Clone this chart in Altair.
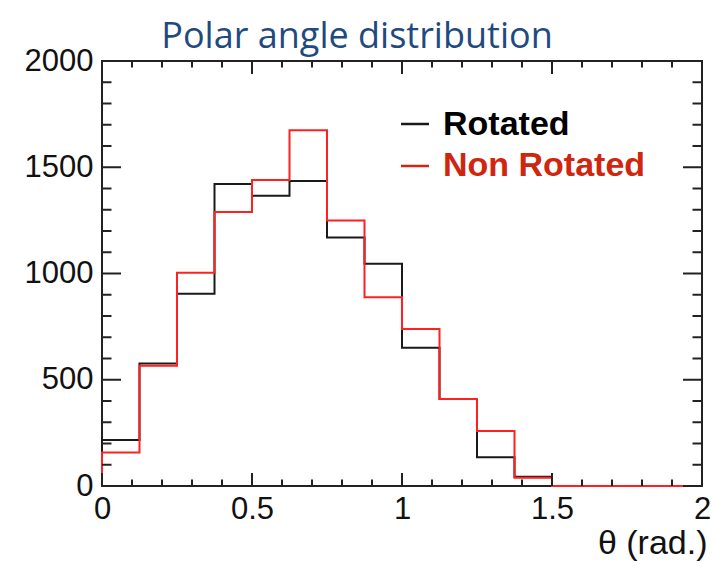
import altair as alt
import pandas as pd

# ---- data ----
bin_edges = [0.0, 0.125, 0.25, 0.375, 0.5, 0.625, 0.75, 0.875,
             1.0, 1.125, 1.25, 1.375, 1.5, 1.625, 1.75, 1.875]
bin_width = 0.125
rotated = [216, 577, 905, 1421, 1366, 1435, 1169, 1046,
           651, 409, 135, 44, 0, 0, 0, 0]
non_rotated = [158, 566, 1004, 1289, 1440, 1674, 1250, 888,
               739, 409, 259, 39, 0, 0, 0, 0]
series_names = ["Rotated", "Non Rotated"]
title_text = ["Polar angle distribution"]
x_major = [0, 0.5, 1, 1.5, 2]
x_minor = [round(0.1 * i, 1) for i in range(21) if i % 5 != 0]
y_major = [0, 500, 1000, 1500, 2000]
y_minor = [v for v in range(0, 2001, 100) if v % 500 != 0]

W, H = 600, 425
FONT = "Liberation Sans"
RED_LINE = "#ff2020"
RED_TEXT = "#d0250e"
BLACK = "#1a1a1a"


def outline(values, name):
    rows = [{"x": bin_edges[0], "y": 0, "series": name, "o": 0}]
    for i, (e, v) in enumerate(zip(bin_edges, values)):
        rows.append({"x": e, "y": v, "series": name, "o": i + 1})
    rows.append({"x": bin_edges[-1] + bin_width, "y": values[-1],
                 "series": name, "o": len(values) + 1})
    return rows


hist = pd.DataFrame(outline(rotated, series_names[0]) +
                    outline(non_rotated, series_names[1]))

xscale = alt.Scale(domain=[0, 2], nice=False, zero=False)
yscale = alt.Scale(domain=[0, 2000], nice=False)

x_axis = alt.Axis(values=x_major, format="~g", title="θ (rad.)",
                  domain=False, ticks=False, grid=False,
                  labelFontSize=31, labelPadding=8, labelFlush=False,
                  labelOverlap=False, labelFont=FONT, labelColor="#111",
                  titleFont=FONT, titleFontSize=34, titleFontWeight="normal",
                  titleColor="#111", titleAlign="right", titleAnchor="end",
                  titleBaseline="alphabetic", titleX=605, titleY=67)
y_axis = alt.Axis(values=y_major, format="d", title=None,
                  domain=False, ticks=False, grid=False,
                  labelFontSize=31, labelPadding=9, labelFont=FONT,
                  labelColor="#111", labelOverlap=False)

lines = alt.Chart(hist).mark_line(interpolate="step-after", strokeWidth=2).encode(
    x=alt.X("x:Q", scale=xscale, axis=x_axis),
    y=alt.Y("y:Q", scale=yscale, axis=y_axis),
    color=alt.Color("series:N",
                    scale=alt.Scale(domain=series_names, range=[BLACK, RED_LINE]),
                    legend=None),
    order="o:Q",
    detail="series:N",
)

# ---- inward ticks on all four sides ----
ym = pd.DataFrame({"y": y_major})
yn = pd.DataFrame({"y": y_minor})
xm = pd.DataFrame({"x": x_major})
xn = pd.DataFrame({"x": x_minor})


def ytick(df, x0, x1):
    return alt.Chart(df).mark_rule(color="#222", strokeWidth=2).encode(
        y=alt.Y("y:Q", scale=yscale, axis=y_axis),
        x=alt.value(x0), x2=alt.value(x1))


def xtick(df, y0, y1):
    return alt.Chart(df).mark_rule(color="#222", strokeWidth=2).encode(
        x=alt.X("x:Q", scale=xscale, axis=x_axis),
        y=alt.value(y0), y2=alt.value(y1))


ticks = [
    ytick(ym, 0, 19), ytick(yn, 0, 9.5),
    ytick(ym, W, W - 19), ytick(yn, W, W - 9.5),
    xtick(xm, H, H - 13), xtick(xn, H, H - 6.5),
    xtick(xm, 0, 13), xtick(xn, 0, 6.5),
]

# ---- legend ----
leg = pd.DataFrame({"series": series_names})
leg_black = alt.Chart(leg).transform_filter(alt.datum.series == series_names[0])
leg_red = alt.Chart(leg).transform_filter(alt.datum.series == series_names[1])

legend_layers = [
    leg_black.mark_rule(color=BLACK, strokeWidth=2.5).encode(
        x=alt.value(299), x2=alt.value(327), y=alt.value(63)),
    leg_red.mark_rule(color=RED_TEXT, strokeWidth=2.5).encode(
        x=alt.value(299), x2=alt.value(327), y=alt.value(105)),
    leg_black.mark_text(align="left", baseline="alphabetic", font=FONT,
                        fontSize=34, fontWeight="bold", color="#000").encode(
        x=alt.value(341), y=alt.value(74), text="series:N"),
    leg_red.mark_text(align="left", baseline="alphabetic", font=FONT,
                      fontSize=34, fontWeight="bold", color=RED_TEXT).encode(
        x=alt.value(341), y=alt.value(115), text="series:N"),
]

# ---- title ----
title = alt.Chart(pd.DataFrame({"t": title_text})).mark_text(
    align="center", baseline="alphabetic", font="Open Sans", fontSize=36,
    color="#1f4a80").encode(x=alt.value(255), y=alt.value(-13), text="t:N")

chart = alt.layer(lines, *ticks, *legend_layers, title).properties(
    width=W, height=H,
    autosize=alt.AutoSizeParams(type="none"),
    padding={"left": 102, "top": 61, "right": 11, "bottom": 80},
).configure_view(stroke="#222", strokeWidth=2)

chart.save("out.html", embed_options={"renderer": "svg", "actions": False})
